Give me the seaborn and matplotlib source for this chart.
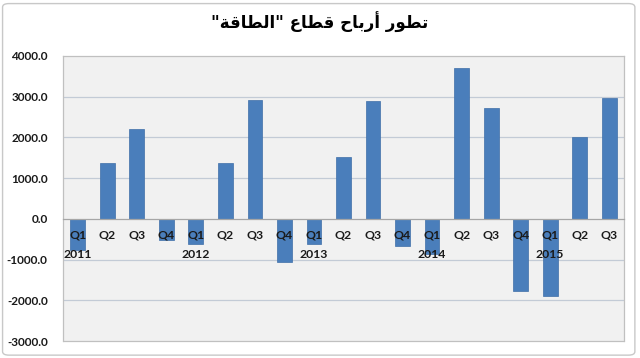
import matplotlib
matplotlib.use("Agg")
import matplotlib.pyplot as plt
import seaborn as sns
import pandas as pd
from matplotlib.patches import FancyBboxPatch

# ---------------- data ----------------
TITLE = 'تطور أرباح قطاع "الطاقة"'
periods = ["2011Q1", "2011Q2", "2011Q3", "2011Q4",
           "2012Q1", "2012Q2", "2012Q3", "2012Q4",
           "2013Q1", "2013Q2", "2013Q3", "2013Q4",
           "2014Q1", "2014Q2", "2014Q3", "2014Q4",
           "2015Q1", "2015Q2", "2015Q3"]
quarter_labels = ["Q1", "Q2", "Q3", "Q4"] * 4 + ["Q1", "Q2", "Q3"]
year_labels = ["2011", "", "", "", "2012", "", "", "", "2013", "", "", "",
               "2014", "", "", "", "2015", "", ""]
profits = [-760, 1380, 2210, -520, -620, 1380, 2920, -1060, -610, 1520,
           2900, -660, -860, 3700, 2720, -1770, -1900, 2000, 2960]
y_ticks = [-3000, -2000, -1000, 0, 1000, 2000, 3000, 4000]

# ------------- minimal Arabic shaping (presentation forms) -------------
FORMS = {  # isolated, final, initial, medial
    "ت": ("\ufe95", "\ufe96", "\ufe97", "\ufe98"),
    "ط": ("\ufec1", "\ufec2", "\ufec3", "\ufec4"),
    "و": ("\ufeed", "\ufeee", None, None),
    "ر": ("\ufead", "\ufeae", None, None),
    "أ": ("\ufe83", "\ufe84", None, None),
    "ب": ("\ufe8f", "\ufe90", "\ufe91", "\ufe92"),
    "ا": ("\ufe8d", "\ufe8e", None, None),
    "ح": ("\ufea1", "\ufea2", "\ufea3", "\ufea4"),
    "ق": ("\ufed5", "\ufed6", "\ufed7", "\ufed8"),
    "ع": ("\ufec9", "\ufeca", "\ufecb", "\ufecc"),
    "ل": ("\ufedd", "\ufede", "\ufedf", "\ufee0"),
    "ة": ("\ufe93", "\ufe94", None, None),
}


def shape_arabic(text):
    out = []
    n = len(text)
    for i, ch in enumerate(text):
        if ch not in FORMS:
            out.append(ch)
            continue
        f = FORMS[ch]
        prev = text[i - 1] if i > 0 else None
        nxt = text[i + 1] if i < n - 1 else None
        jp = prev in FORMS and FORMS[prev][2] is not None
        jn = nxt in FORMS and f[2] is not None
        if jp and jn:
            out.append(f[3])
        elif jn:
            out.append(f[2])
        elif jp:
            out.append(f[1])
        else:
            out.append(f[0])
    return "".join(out)[::-1]


# ---------------- plot ----------------
sns.set_theme(style="white")
plt.rcParams["font.family"] = ["Lato", "DejaVu Sans"]

fig = plt.figure(figsize=(6.4, 3.58), dpi=100)
fig.patch.set_facecolor("white")
fig.patches.append(FancyBboxPatch((0.004, 0.008), 0.988, 0.982,
                                  boxstyle="round,pad=0,rounding_size=0.01",
                                  transform=fig.transFigure, facecolor="none",
                                  edgecolor="#c8c8c8", linewidth=1.0))

ax = fig.add_axes([63 / 640, 1 - 341 / 358, (624 - 63) / 640, (341 - 56) / 358])
ax.set_facecolor("#f1f1f1")

df = pd.DataFrame({"period": periods, "profit": profits})
sns.barplot(data=df, x="period", y="profit", order=periods, color="#4a7ebb",
            saturation=1, width=0.5, ax=ax, edgecolor="#3f6fa8", linewidth=0.5)

ax.set_axisbelow(False)
ax.set_ylim(-3000, 4000)
ax.set_xlim(-0.5, len(periods) - 0.5)
ax.set_yticks(y_ticks)
ax.set_yticklabels([f"{v:.1f}" for v in y_ticks])
for v in y_ticks[1:-1]:
    if v != 0:
        ax.axhline(v, color="#c3cbd6", linewidth=0.9, zorder=0)

ax.set_xticks(range(len(periods)))
ax.set_xticklabels(quarter_labels)
for i, y in enumerate(year_labels):
    if y:
        ax.text(i, -880, y, ha="center", va="center", fontsize=8.8,
                fontweight="bold", color="#1a1a1a", zorder=10)

ax.spines["bottom"].set_position(("data", 0))
ax.spines["bottom"].set_color("#a6a6a6")
ax.spines["bottom"].set_linewidth(0.9)
for s in ["left", "right", "top"]:
    ax.spines[s].set_color("#c0c0c0")
    ax.spines[s].set_linewidth(0.9)
ax.plot([0, 1], [0, 0], transform=ax.transAxes, color="#c0c0c0", linewidth=0.9,
        clip_on=False, zorder=5)

ax.tick_params(axis="y", length=0, pad=11, labelsize=8.5, labelcolor="#1a1a1a")
ax.tick_params(axis="x", length=0, pad=8, labelsize=8.8, labelcolor="#1a1a1a")
for lbl in ax.get_xticklabels() + ax.get_yticklabels():
    lbl.set_fontweight("bold")
ax.set_xlabel("")
ax.set_ylabel("")

fig.text(0.5, 1 - 22 / 358, shape_arabic(TITLE), ha="center", va="center",
         fontsize=12, fontweight="bold", family=["DejaVu Sans"], color="#000000")

fig.savefig("out.png", dpi=100)
